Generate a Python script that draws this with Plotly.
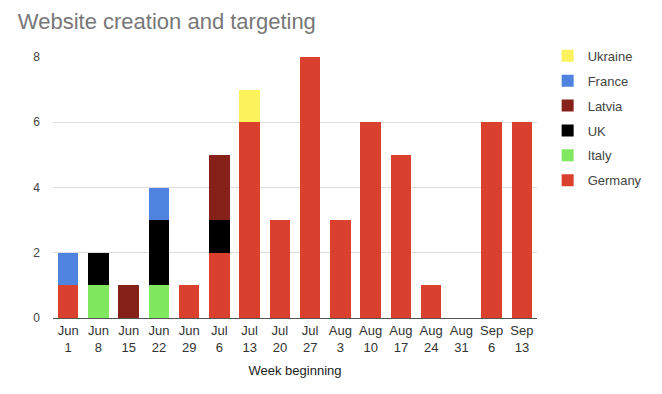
import plotly.graph_objects as go

weeks = ["Jun<br>1", "Jun<br>8", "Jun<br>15", "Jun<br>22", "Jun<br>29", "Jul<br>6", "Jul<br>13",
         "Jul<br>20", "Jul<br>27", "Aug<br>3", "Aug<br>10", "Aug<br>17", "Aug<br>24", "Aug<br>31",
         "Sep<br>6", "Sep<br>13"]
germany = [1, 0, 0, 0, 1, 2, 6, 3, 8, 3, 6, 5, 1, 0, 6, 6]
italy   = [0, 1, 0, 1, 0, 0, 0, 0, 0, 0, 0, 0, 0, 0, 0, 0]
uk      = [0, 1, 0, 2, 0, 1, 0, 0, 0, 0, 0, 0, 0, 0, 0, 0]
latvia  = [0, 0, 1, 0, 0, 2, 0, 0, 0, 0, 0, 0, 0, 0, 0, 0]
france  = [1, 0, 0, 1, 0, 0, 0, 0, 0, 0, 0, 0, 0, 0, 0, 0]
ukraine = [0, 0, 0, 0, 0, 0, 1, 0, 0, 0, 0, 0, 0, 0, 0, 0]

series = [
    ("Germany", germany, "#d9402e"),
    ("Italy", italy, "#80e85e"),
    ("UK", uk, "#000000"),
    ("Latvia", latvia, "#86211a"),
    ("France", france, "#4f83e0"),
    ("Ukraine", ukraine, "#fcf25c"),
]

fig = go.Figure()
n = len(series)
for i, (name, vals, color) in enumerate(series):
    fig.add_trace(go.Bar(x=weeks, y=vals, name=name, marker_color=color,
                         marker_line_width=0, legendgroup=name,
                         legendrank=n - i))

fig.update_layout(
    barmode="stack",
    width=662, height=394,
    paper_bgcolor="white", plot_bgcolor="white",
    font=dict(family="Liberation Sans, Arial, sans-serif", color="#444444", size=12),
    title=dict(text="Website creation and targeting", x=0.027, xanchor="left",
               y=0.945, yanchor="middle",
               font=dict(size=22, color="#777777")),
    margin=dict(l=53, r=125, t=57, b=76),
    bargap=0.33,
    legend=dict(x=1.022, y=1.062, xanchor="left", yanchor="top",
                traceorder="grouped", font=dict(size=13, color="#444444"),
                itemwidth=30, tracegroupgap=5),
    xaxis=dict(showgrid=False, showline=True, linecolor="#555555", linewidth=1,
               tickfont=dict(size=13, color="#333333"), ticks="", automargin=False,
               title=dict(text="Week beginning", font=dict(size=13, color="#222222"),
                          standoff=12)),
    yaxis=dict(range=[0, 8], dtick=2, showgrid=True, gridcolor="#dddddd",
               zeroline=False, tickfont=dict(size=12, color="#444444"),
               ticks="", ticklabelstandoff=12, automargin=False),
)

fig.write_html("out.html", config={"displayModeBar": False},
               post_script="document.body.style.margin='0';")
